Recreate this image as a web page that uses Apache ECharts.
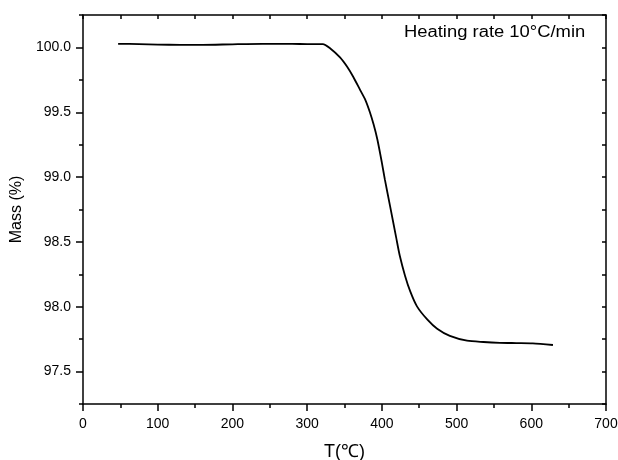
<!DOCTYPE html>
<html>
<head>
<meta charset="UTF-8">
<title>TGA</title>
<script src="https://cdn.jsdelivr.net/npm/echarts@6/dist/echarts.min.js"></script>
<style>
  html, body { margin: 0; padding: 0; background: #fff; }
  #main { width: 618px; height: 460px; }
</style>
</head>
<body>
<div id="main"></div>
<script type="text/javascript">
// temperature (°C) and mass (%)
var temps = [47, 75, 100, 130, 160, 200, 240, 280, 300, 321, 331, 344, 354, 362, 371, 378, 384, 389, 394, 400, 404, 411, 419, 424, 431, 438, 447, 461, 474, 491, 514, 536, 558, 580, 602, 629];
var mass  = [100.028, 100.026, 100.022, 100.02, 100.02, 100.024, 100.027, 100.027, 100.026, 100.026, 99.992, 99.923, 99.847, 99.770, 99.671, 99.594, 99.50, 99.405, 99.29, 99.112, 98.982, 98.776, 98.539, 98.393, 98.240, 98.118, 98.003, 97.90, 97.83, 97.775, 97.738, 97.728, 97.722, 97.72, 97.718, 97.705];
var yMajor = [97.5, 98.0, 98.5, 99.0, 99.5, 100.0];
var yMinor = [97.25, 97.75, 98.25, 98.75, 99.25, 99.75, 100.25];
var yAll = [97.25, 97.5, 97.75, 98.0, 98.25, 98.5, 98.75, 99.0, 99.25, 99.5, 99.75, 100.0, 100.25];

var FONT = '"Liberation Sans", Arial, sans-serif';
var pts = [];
for (var i = 0; i < temps.length; i++) pts.push([temps[i], mass[i]]);

var myChart = echarts.init(document.getElementById('main'));
myChart.setOption({
  animation: false,
  grid: { left: 83, right: 12, top: 15, bottom: 56, outerBoundsMode: 'none' },
  graphic: [{
    type: 'text', x: 404, y: 25, scaleX: 1.15,
    style: { text: 'Heating rate 10°C/min', font: '16px ' + FONT, fill: '#000' }
  }],
  xAxis: [{
    type: 'value', min: 0, max: 700, interval: 100,
    name: 'T(℃)', nameLocation: 'middle', nameGap: 39,
    nameTextStyle: { fontSize: 18, fontFamily: FONT, color: '#000' },
    axisLine: { onZero: false, lineStyle: { color: '#000', width: 1.5 } },
    axisTick: { inside: false, length: 7, lineStyle: { color: '#000', width: 1.5 } },
    minorTick: { show: true, splitNumber: 2, length: 4, lineStyle: { color: '#000', width: 1.5 } },
    axisLabel: { fontSize: 14, fontFamily: FONT, color: '#000', margin: 13 },
    splitLine: { show: false }
  }, {
    type: 'value', position: 'top', min: 0, max: 700, interval: 50,
    axisLine: { onZero: false, lineStyle: { color: '#000', width: 1.5 } },
    axisTick: { inside: true, length: 4, lineStyle: { color: '#000', width: 1.5 } },
    axisLabel: { show: false },
    splitLine: { show: false }
  }],
  yAxis: [{
    type: 'value', min: 97.25, max: 100.25,
    name: 'Mass (%)', nameLocation: 'middle', nameGap: 50,
    nameTextStyle: { fontSize: 16, fontFamily: FONT, color: '#000' },
    axisLine: { onZero: false, lineStyle: { color: '#000', width: 1.5 } },
    axisTick: { length: 7, customValues: yMajor, lineStyle: { color: '#000', width: 1.5 } },
    axisLabel: {
      customValues: yMajor, fontSize: 14, fontFamily: FONT, color: '#000', margin: 12,
      formatter: function (v) { return v.toFixed(1); }
    },
    splitLine: { show: false }
  }, {
    type: 'value', position: 'left', min: 97.25, max: 100.25,
    axisLine: { show: false },
    axisTick: { length: 4, customValues: yMinor, lineStyle: { color: '#000', width: 1.5 } },
    axisLabel: { show: false },
    splitLine: { show: false }
  }, {
    type: 'value', position: 'right', min: 97.25, max: 100.25,
    axisLine: { onZero: false, lineStyle: { color: '#000', width: 1.5 } },
    axisTick: { inside: true, length: 4, customValues: yAll, lineStyle: { color: '#000', width: 1.5 } },
    axisLabel: { show: false },
    splitLine: { show: false }
  }],
  series: [{
    type: 'line',
    data: pts,
    showSymbol: false,
    smooth: 0.25,
    lineStyle: { color: '#000', width: 1.8 }
  }]
});
</script>
</body>
</html>
